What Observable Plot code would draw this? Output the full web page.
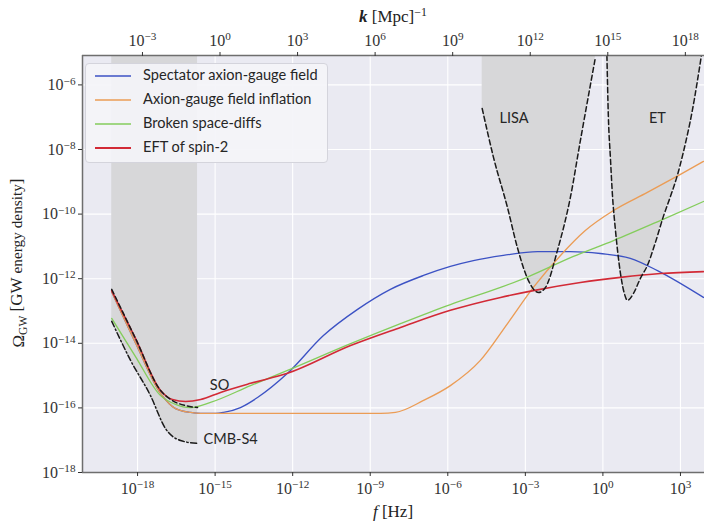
<!DOCTYPE html>
<html>
<head>
<meta charset="utf-8">
<script src="https://cdn.jsdelivr.net/npm/d3@7"></script>
<script src="https://cdn.jsdelivr.net/npm/@observablehq/plot@0.6"></script>
<style>
  html, body { margin: 0; padding: 0; background: #ffffff; }
  #wrap { position: relative; width: 704px; height: 523px; overflow: hidden; }
  #legend { position: absolute; left: 85px; top: 63px; width: 243px; height: 100px; box-sizing: border-box;
    background: rgba(244,244,248,0.92); border: 1px solid #d4d4dc; border-radius: 4px;
    font-family: Lato, "Open Sans", sans-serif; font-size: 14.6px; color: #262626; }
  .row { position: absolute; left: 0; height: 20px; width: 100%; }
  .row svg { position: absolute; left: 9px; top: 4px; }
  .row span { position: absolute; left: 57px; top: 0px; white-space: nowrap; }
</style>
</head>
<body>
<div id="wrap"><div id="legend"></div></div>
<script>
// ---- data (log10 f [Hz], log10 Omega_GW) ----
const seriesNames = ["Spectator axion-gauge field", "Axion-gauge field inflation", "Broken space-diffs", "EFT of spin-2"];
const seriesColors = ["#3c52c4", "#eb9c55", "#84cd5c", "#d22a36"];

const spectator = [[-19.0,-12.40],[-18.08,-13.98],[-17.11,-15.55],[-16.53,-16.02],[-15.95,-16.14],[-15.56,-16.17],
  [-14.98,-16.17],[-14.67,-16.14],[-14.02,-15.99],[-13.36,-15.68],[-12.20,-14.93],[-10.81,-13.76],[-9.49,-12.95],
  [-8.22,-12.33],[-6.94,-11.90],[-5.90,-11.62],[-5.01,-11.44],[-3.85,-11.28],[-2.53,-11.16],[-1.26,-11.16],
  [-0.10,-11.22],[1.06,-11.37],[2.11,-11.75],[3.89,-12.58]];
const axionInflation = [[-19.0,-12.40],[-18.08,-13.98],[-17.11,-15.55],[-16.53,-16.02],[-15.95,-16.14],[-15.56,-16.17],
  [-12.0,-16.17],[-8.60,-16.17],[-8.02,-16.14],[-6.94,-15.77],[-5.90,-15.31],[-4.74,-14.53],[-3.69,-13.39],
  [-2.69,-12.27],[-1.64,-11.28],[-0.68,-10.51],[0.41,-9.89],[1.72,-9.33],[3.00,-8.77],[3.89,-8.37]];
const brokenDiffs = [[-19.0,-13.23],[-18.08,-14.41],[-17.11,-15.62],[-16.53,-15.89],[-15.95,-15.99],[-15.18,-15.83],
  [-13.63,-15.31],[-12.20,-14.84],[-9.76,-14.01],[-7.83,-13.39],[-5.90,-12.80],[-3.96,-12.27],[-2.92,-11.95],
  [-1.14,-11.31],[0.41,-10.82],[2.22,-10.20],[3.89,-9.61]];
const eftSpin2 = [[-19.0,-12.37],[-18.08,-13.85],[-17.11,-15.46],[-16.65,-15.74],[-16.14,-15.80],[-15.56,-15.74],
  [-14.79,-15.52],[-13.63,-15.24],[-12.20,-14.93],[-9.76,-14.07],[-7.83,-13.51],[-5.90,-12.98],[-3.96,-12.58],
  [-2.69,-12.37],[-0.87,-12.12],[0.68,-11.96],[2.22,-11.84],[3.89,-11.78]];

// sensitivity curves
const soCurve = [[-19.0,-12.33],[-18.08,-13.85],[-17.11,-15.46],[-16.72,-15.74],[-16.14,-15.93],[-15.68,-15.99]];
const cmbS4Curve = [[-19.0,-13.32],[-18.27,-14.53],[-17.50,-15.62],[-16.92,-16.64],[-16.34,-17.01],[-15.68,-17.10]];
const lisaCurve = [[-4.67,-6.73],[-4.23,-8.25],[-3.69,-9.80],[-3.31,-11.03],[-2.88,-12.06],[-2.49,-12.43],
  [-2.22,-12.27],[-1.76,-11.13],[-1.26,-9.49],[-0.87,-7.72],[-0.29,-5.15]];
const etCurve = [[0.155,-5.09],[0.21,-6.95],[0.29,-8.25],[0.37,-9.42],[0.48,-10.45],[0.68,-11.84],[0.83,-12.46],
  [0.95,-12.67],[1.18,-12.46],[1.45,-11.99],[1.72,-11.59],[2.03,-10.88],[2.34,-10.07],[2.61,-9.46],[2.88,-8.80],
  [3.11,-8.09],[3.46,-6.79],[3.81,-5.09]];

const centeredLabels = [
  {name: "LISA", lf: -3.44, lo: -7.05},
  {name: "ET", lf: 2.11, lo: -7.05},
  {name: "SO", lf: -14.83, lo: -15.31}
];
const leftLabels = [{name: "CMB-S4", lf: -15.45, lo: -16.96}];

const fTickExps = [-18, -15, -12, -9, -6, -3, 0, 3];
const kTickExps = [-3, 0, 3, 6, 9, 12, 15, 18];
const omegaTickExps = [-18, -16, -14, -12, -10, -8, -6];
const xDomainExps = [-20.13, 3.93];
const yDomainExps = [-18, -5.09];
const hzPerInvMpc = 1.546e-15; // f = c k / (2 pi)

// ---- build ----
const P = a => a.map(([lf, lo]) => ({f: 10 ** lf, o: 10 ** lo}));
const xDom = xDomainExps.map(e => 10 ** e);
const yDom = yDomainExps.map(e => 10 ** e);
const topO = yDom[1];
const fTicks = fTickExps.map(e => 10 ** e);
const kTicksAsF = kTickExps.map(e => 10 ** e * hzPerInvMpc);
const oTicks = omegaTickExps.map(e => 10 ** e);
const seriesData = [spectator, axionInflation, brokenDiffs, eftSpin2];

const tickFont = {fontFamily: "'Liberation Serif', 'DejaVu Serif', serif", fontSize: 16};
const curve = "monotone-x";
const grayFill = "#d7d7d9";
const labelFont = {fontFamily: "Lato, 'Open Sans', sans-serif", fontSize: 14.5, fill: "#262626"};
const spine = {stroke: "#6e6e6e", strokeWidth: 1.5};

const chart = Plot.plot({
  width: 704, height: 523,
  marginLeft: 82, marginRight: 0, marginTop: 55, marginBottom: 51,
  x: {type: "log", domain: xDom},
  y: {type: "log", domain: yDom},
  style: {background: "transparent", overflow: "visible"},
  marks: [
    Plot.frame({fill: "#eaeaf2", stroke: null}),
    Plot.gridX({ticks: fTicks, stroke: "#ffffff", strokeOpacity: 1, strokeWidth: 1.1}),
    Plot.gridY({ticks: oTicks, stroke: "#ffffff", strokeOpacity: 1, strokeWidth: 1.1}),
    // shaded sensitivity regions
    Plot.areaY(P(cmbS4Curve), {x: "f", y1: topO, y2: "o", fill: grayFill, curve, clip: true}),
    Plot.areaY(P(lisaCurve), {x: "f", y1: topO, y2: "o", fill: grayFill, curve, clip: true}),
    Plot.areaY(P(etCurve), {x: "f", y1: topO, y2: "o", fill: grayFill, curve, clip: true}),
    // model curves
    ...seriesData.map((s, i) => Plot.line(P(s), {x: "f", y: "o", stroke: seriesColors[i], strokeWidth: i === 3 ? 1.6 : 1.35, curve, clip: true})),
    // sensitivity curves
    Plot.line(P(soCurve), {x: "f", y: "o", stroke: "#1a1a1a", strokeWidth: 1.5, strokeDasharray: "5,3", curve, clip: true}),
    Plot.line(P(cmbS4Curve), {x: "f", y: "o", stroke: "#1a1a1a", strokeWidth: 1.5, strokeDasharray: "6,2.5,1.5,2.5", curve, clip: true}),
    Plot.line(P(lisaCurve), {x: "f", y: "o", stroke: "#1a1a1a", strokeWidth: 1.5, strokeDasharray: "5,3", curve, clip: true}),
    Plot.line(P(etCurve), {x: "f", y: "o", stroke: "#1a1a1a", strokeWidth: 1.5, strokeDasharray: "5,3", curve, clip: true}),
    Plot.text(centeredLabels, {x: d => 10 ** d.lf, y: d => 10 ** d.lo, text: "name", textAnchor: "middle", ...labelFont}),
    Plot.text(leftLabels, {x: d => 10 ** d.lf, y: d => 10 ** d.lo, text: "name", textAnchor: "start", ...labelFont}),
    // spines (left, top, bottom)
    Plot.ruleX([xDom[0]], spine),
    Plot.ruleY([yDom[0]], spine),
    Plot.ruleY([yDom[1]], spine),
    // axes
    Plot.axisX({ticks: fTicks, anchor: "bottom", label: null, tickSize: 4, tickPadding: 6,
      tickFormat: d => "10^" + Math.round(Math.log10(d)), color: "#333", ...tickFont}),
    Plot.axisX({ticks: kTicksAsF, anchor: "top", label: null, tickSize: 4, tickPadding: 6,
      tickFormat: d => "10^" + Math.round(Math.log10(d / hzPerInvMpc)), color: "#333", ...tickFont}),
    Plot.axisY({ticks: oTicks, anchor: "left", label: null, tickSize: 4, tickPadding: 3,
      tickFormat: d => "10^" + Math.round(Math.log10(d)), color: "#333", ...tickFont})
  ]
});

// superscripts for tick labels
d3.select(chart).selectAll("text").each(function () {
  const m = /^10\^(.+)$/.exec(this.textContent);
  if (!m) return;
  const el = d3.select(this);
  el.text(null);
  el.append("tspan").text("10");
  el.append("tspan").attr("dy", "-0.48em").attr("font-size", "0.7em").text(m[1].replace("-", "\u2212"));
});

// axis titles
const svg = d3.select(chart);
const serif = "'Liberation Serif', 'DejaVu Serif', serif";
const bx = svg.append("text").attr("x", 393).attr("y", 517).attr("text-anchor", "middle")
  .attr("font-family", serif).attr("font-size", 17).attr("fill", "#222");
bx.append("tspan").attr("font-style", "italic").text("f");
bx.append("tspan").text(" [Hz]");
const tx = svg.append("text").attr("x", 393).attr("y", 22).attr("text-anchor", "middle")
  .attr("font-family", serif).attr("font-size", 17).attr("fill", "#222");
tx.append("tspan").attr("font-style", "italic").attr("font-weight", "bold").text("k");
tx.append("tspan").text(" [Mpc]");
tx.append("tspan").attr("dy", "-0.5em").attr("font-size", "0.7em").text("\u22121");
const yl = svg.append("text").attr("transform", "translate(24,263) rotate(-90)").attr("text-anchor", "middle")
  .attr("font-family", serif).attr("font-size", 17).attr("fill", "#222");
yl.append("tspan").text("\u03A9");
yl.append("tspan").attr("dy", "0.3em").attr("font-size", "0.68em").text("GW");
yl.append("tspan").attr("dy", "-0.3em").text(" [GW ");
yl.append("tspan").attr("font-size", "0.9em").text("energy density");
yl.append("tspan").text("]");

document.getElementById("wrap").prepend(chart);

// legend
const legend = d3.select("#legend");
seriesNames.forEach((name, i) => {
  const row = legend.append("div").attr("class", "row").style("top", (2 + i * 24) + "px");
  const s = row.append("svg").attr("width", 40).attr("height", 12);
  s.append("line").attr("x1", 0).attr("x2", 36).attr("y1", 6).attr("y2", 6)
    .attr("stroke", seriesColors[i]).attr("stroke-width", i === 3 ? 2.2 : 1.5);
  row.append("span").text(name);
});
</script>
</body>
</html>
